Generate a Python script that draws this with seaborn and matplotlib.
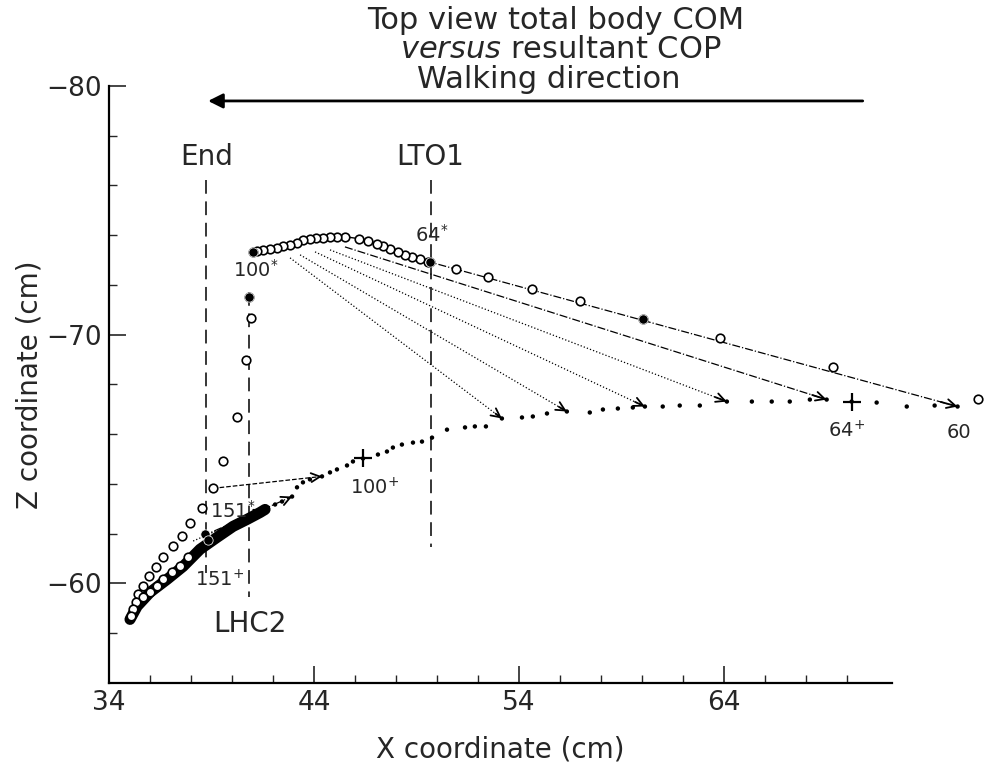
import numpy as np
import pandas as pd
import matplotlib
matplotlib.use("Agg")
import matplotlib.pyplot as plt
import seaborn as sns

# --- COM (open circles), cm ---
com_upper_x = [49.66, 49.56, 49.17, 48.78, 48.44, 48.10, 47.71, 47.37, 47.07, 46.63, 46.20,
               45.51, 45.12, 44.78, 44.44, 44.10, 43.80, 43.46, 43.17, 42.83, 42.49, 42.20,
               41.85, 41.51, 41.22, 41.02]
com_upper_z = [-72.93, -72.93, -73.05, -73.13, -73.21, -73.33, -73.45, -73.57, -73.65, -73.78,
               -73.86, -73.94, -73.94, -73.94, -73.90, -73.90, -73.86, -73.82, -73.69, -73.61,
               -73.57, -73.49, -73.45, -73.41, -73.37, -73.33]
com_right_x = [76.39, 69.32, 63.80, 60.05, 56.98, 54.63, 52.49, 50.93]
com_right_z = [-67.43, -68.71, -69.88, -70.64, -71.37, -71.85, -72.33, -72.65]
com_down_x = [40.83, 40.93, 40.68, 40.24, 39.56, 39.07, 38.54, 37.95, 37.56, 37.12, 36.63,
              36.29, 35.95, 35.66, 35.41, 35.32, 35.17, 35.07]
com_down_z = [-71.53, -70.68, -69.00, -66.67, -64.90, -63.82, -63.01, -62.41, -61.89, -61.49,
              -61.04, -60.64, -60.28, -59.88, -59.56, -59.24, -58.96, -58.67]
inner_x = [37.85, 37.46, 37.07, 36.63, 36.34, 36.00, 35.66]
inner_z = [-61.04, -60.68, -60.44, -60.16, -59.88, -59.64, -59.44]
filled_x = [60.05, 49.66, 41.02, 40.83, 38.70, 38.85]
filled_z = [-70.64, -72.93, -73.33, -71.53, -62.00, -61.75]

# --- resultant COP (small dots), cm ---
cop_x = [75.41, 74.29, 72.93, 71.46, 70.24, 69.02, 68.20, 67.22, 66.34, 65.37, 64.15, 62.83,
         61.85, 61.02, 60.15, 59.56, 58.83, 58.10, 57.46, 56.34, 55.37, 54.68, 54.15, 53.17,
         52.39, 51.85, 51.37, 50.49, 49.76, 49.27, 48.83, 48.29, 47.85, 47.56, 47.12, 46.39,
         45.90, 45.61, 45.12, 44.78, 44.39, 43.80, 43.46, 43.17, 42.93, 42.44, 42.10, 41.61,
         41.37, 40.73, 40.05, 39.27, 38.44, 37.61, 36.83, 36.00, 35.37, 35.02]
cop_z = [-67.11, -67.15, -67.11, -67.27, -67.31, -67.39, -67.39, -67.31, -67.31, -67.31, -67.31,
         -67.15, -67.15, -67.11, -67.11, -67.07, -67.03, -66.99, -66.87, -66.91, -66.83, -66.71,
         -66.67, -66.63, -66.31, -66.31, -66.27, -66.18, -65.86, -65.70, -65.66, -65.58, -65.46,
         -65.30, -65.18, -65.02, -64.90, -64.74, -64.58, -64.46, -64.30, -64.18, -64.06, -63.86,
         -63.49, -63.29, -63.17, -62.97, -62.85, -62.57, -62.29, -61.85, -61.37, -60.68, -60.16,
         -59.64, -59.08, -58.55]
plus_x = [70.24, 46.39]
plus_z = [-67.31, -65.02]

# --- COM -> COP vectors: start x, start z, end x, end z, style ---
vec_x0 = [48.20, 45.51, 44.78, 44.05, 43.32, 42.83, 39.07, 38.54, 38.10]
vec_z0 = [-73.25, -73.53, -73.41, -73.33, -73.21, -73.09, -63.82, -61.89, -61.70]
vec_x1 = [75.41, 69.02, 64.15, 60.15, 56.34, 53.17, 44.39, 42.93, 41.61]
vec_z1 = [-67.11, -67.39, -67.31, -67.11, -66.91, -66.63, -64.30, -63.49, -62.97]
vec_ls = ["-.", "-.", ":", ":", ":", ":", "--", "-.", ":"]

# --- gait events (vertical dashed lines) ---
event_names = ["End", "LHC2", "LTO1"]
event_x = [38.73, 40.83, 49.71]
event_top = [-76.22, -71.70, -76.22]
event_bottom = [-60.40, -59.44, -61.45]

sns.set_theme(style="ticks")
plt.rcParams["font.family"] = ["DejaVu Sans"]

fig = plt.figure(figsize=(9.92, 7.75), dpi=100)
ax = fig.add_axes([0.110, 0.119, 0.789, 0.770])

# event lines
for name, ex, et, eb in zip(event_names, event_x, event_top, event_bottom):
    ax.plot([ex, ex], [et, eb], color="black", lw=1.1, dashes=(9, 5), zorder=1)

# vectors
for x0, z0, x1, z1, ls in zip(vec_x0, vec_z0, vec_x1, vec_z1, vec_ls):
    ax.plot([x0, x1], [z0, z1], color="black", lw=0.9, ls=ls, zorder=2, clip_on=False)
    ax.annotate("", xy=(x1, z1), xytext=(x1 - 0.03 * (x1 - x0), z1 - 0.03 * (z1 - z0)),
                arrowprops=dict(arrowstyle="->", lw=1.3, color="black",
                                mutation_scale=16, shrinkA=0, shrinkB=0),
                annotation_clip=False, zorder=3)

cop = pd.DataFrame({"x": cop_x, "z": cop_z})
sns.scatterplot(data=cop, x="x", y="z", ax=ax, s=10, color="black", edgecolor="none",
                zorder=3, clip_on=False)
# dense final part of COP path
band = cop.iloc[47:]
ax.plot(band["x"], band["z"], color="black", lw=8, solid_capstyle="round", zorder=3)
sns.scatterplot(x=plus_x, y=plus_z, ax=ax, marker="+", s=160, color="black",
                linewidth=1.6, zorder=4)

com_up = pd.DataFrame({"x": com_upper_x, "z": com_upper_z})
sns.lineplot(data=com_up, x="x", y="z", ax=ax, sort=False, estimator=None,
             color="black", lw=1.0, zorder=4)
for cx, cz in [(com_upper_x, com_upper_z), (com_right_x, com_right_z),
               (com_down_x, com_down_z), (inner_x, inner_z)]:
    sns.scatterplot(x=cx, y=cz, ax=ax, s=38, facecolor="white", edgecolor="black",
                    linewidth=1.2, zorder=5, clip_on=False)
sns.scatterplot(x=filled_x, y=filled_z, ax=ax, s=45, color="black", zorder=6)

# walking direction arrow
ax.annotate("", xy=(38.83, -79.40), xytext=(70.78, -79.40),
            arrowprops=dict(arrowstyle="-|>", lw=2.0, color="black",
                            mutation_scale=22, shrinkA=0, shrinkB=0),
            annotation_clip=False)

fs = 20
ax.text(38.78, -77.15, "End", ha="center", va="center", fontsize=fs)
ax.text(49.66, -77.15, "LTO1", ha="center", va="center", fontsize=fs)
ax.text(40.88, -58.35, "LHC2", ha="center", va="center", fontsize=fs)

lfs = 14
ax.text(41.15, -72.60, r"100$^{*}$", ha="center", va="center", fontsize=lfs)
ax.text(49.75, -74.00, r"64$^{*}$", ha="center", va="center", fontsize=lfs)
ax.text(70.00, -66.15, r"64$^{+}$", ha="center", va="center", fontsize=lfs)
ax.text(75.50, -66.05, "60", ha="center", va="center", fontsize=lfs)
ax.text(46.95, -63.85, r"100$^{+}$", ha="center", va="center", fontsize=lfs)
ax.text(40.05, -62.90, r"151$^{*}$", ha="center", va="center", fontsize=lfs)
ax.text(39.40, -60.15, r"151$^{+}$", ha="center", va="center", fontsize=lfs)

tfs = 22
fig.text(0.56, 0.974, "Top view total body COM", ha="center", va="center", fontsize=tfs)
fig.text(0.565, 0.936, r"$\it{versus}$ resultant COP", ha="center", va="center", fontsize=tfs)
fig.text(0.553, 0.897, "Walking direction", ha="center", va="center", fontsize=tfs)

ax.set_xlim(34, 72.2)
ax.set_ylim(-56, -80)
ax.set_xticks([34, 44, 54, 64])
ax.set_xticks(np.arange(36, 72, 2), minor=True)
ax.set_yticks([-80, -70, -60])
ax.set_yticks(np.arange(-78, -56, 2), minor=True)
ax.set_yticklabels(["\u221280", "\u221270", "\u221260"])
ax.tick_params(which="major", direction="in", length=12, width=1.2, labelsize=19, pad=5)
ax.tick_params(which="minor", direction="in", length=6, width=1.0)
ax.set_xlabel("X coordinate (cm)", fontsize=20, labelpad=14)
ax.set_ylabel("Z coordinate (cm)", fontsize=20, labelpad=2)
for side in ["top", "right"]:
    ax.spines[side].set_visible(False)
for side in ["left", "bottom"]:
    ax.spines[side].set_linewidth(1.6)
    ax.spines[side].set_color("black")

fig.savefig("out.png", dpi=100)
